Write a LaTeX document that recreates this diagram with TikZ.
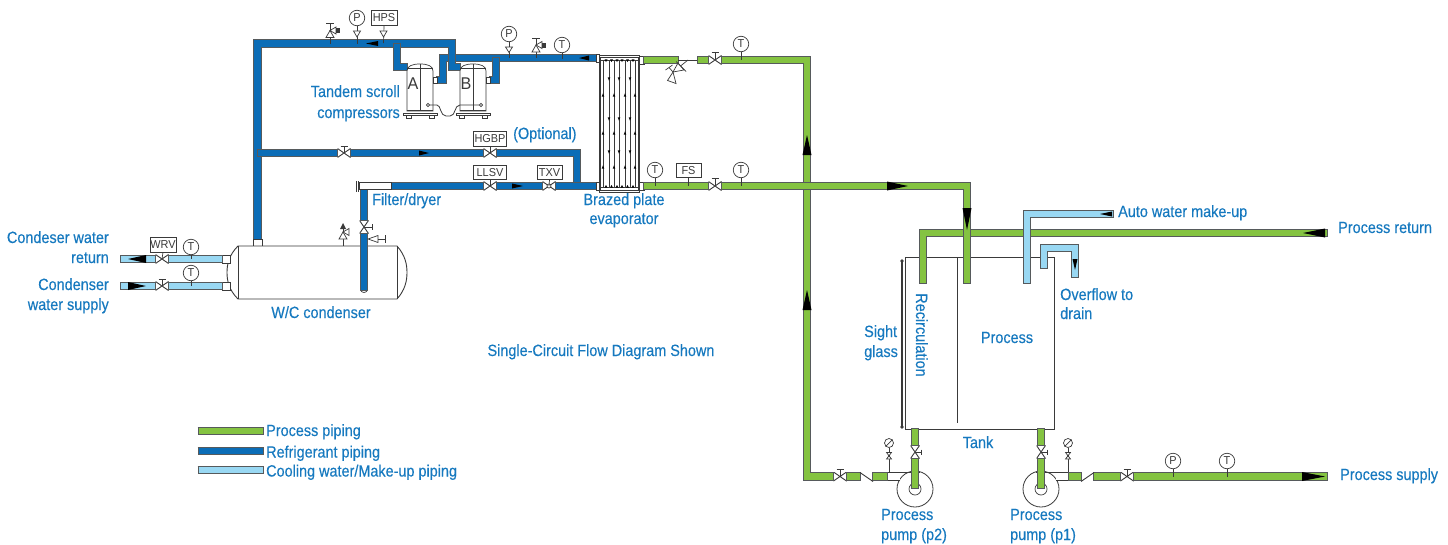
\documentclass[tikz,border=0pt]{standalone}
\usepackage{fontspec}
\setmainfont{Liberation Sans}[FakeStretch=0.885,FakeBold=0.35]
\newfontfamily\instfont{Liberation Sans}[FakeStretch=0.95]
\definecolor{pedge}{HTML}{565A5C}
\definecolor{pgreen}{HTML}{84C341}
\definecolor{pblue}{HTML}{0B6DB7}
\definecolor{plight}{HTML}{99D8F3}
\definecolor{ltext}{HTML}{1679BF}
\definecolor{inst}{HTML}{3A3A3A}
\tikzset{
 pipebase/.style={line join=miter,line cap=butt,preaction={draw=pedge,line width=8.8pt,shorten >=-1pt,shorten <=-1pt},line width=6.2pt},
 gp/.style={pipebase,draw=pgreen},
 bp/.style={pipebase,draw=pblue},
 lp/.style={pipebase,draw=plight},
 vl/.style={draw=inst,line width=0.7pt},
 valveh/.style={rectangle,inner sep=0pt,minimum width=13pt,minimum height=9pt,fill=white,
   path picture={\draw[inst,line width=0.9pt] (path picture bounding box.south west)--(path picture bounding box.north east)--(path picture bounding box.south east)--(path picture bounding box.north west)--cycle;}},
 valvev/.style={valveh,minimum width=9pt,minimum height=13pt,
   path picture={\draw[inst,line width=0.9pt] (path picture bounding box.south west)--(path picture bounding box.north east)--(path picture bounding box.north west)--(path picture bounding box.south east)--cycle;}},
 gauge/.style={circle,draw=inst,line width=0.7pt,fill=white,minimum size=15.5pt,inner sep=0pt,font=\instfont\fontsize{11.5}{11.5}\selectfont,text=inst},
 ibox/.style={rectangle,draw=inst,line width=0.7pt,fill=white,inner sep=0pt,minimum height=14.5pt,font=\instfont\fontsize{11.5}{11.5}\selectfont,text=inst},
 dial/.style={circle,draw=inst,line width=0.7pt,fill=white,minimum size=9pt,inner sep=0pt},
 lab/.style={inner sep=0pt,text=ltext,font=\fontsize{16.3}{16.3}\selectfont,text height=12pt,text depth=2pt},
 tipf/.style={fill=black},
 pics/relief/.style={code={
   \draw[vl] (0,0)--(0,-6);
   \draw[vl,fill=white] (-4,-6)--(4,-6)--(0,-13)--cycle;
   \draw[vl,fill=white] (0,-13)--(6,-16.5)--(6,-9.5)--cycle;
   \fill[inst] (6,-15.5) rectangle (10,-10.5);
   \draw[vl] (0,-13)--(0,-20) (-4,-20)--(4,-20);
 }},
 pics/compressor/.style={code={
   \draw[vl,fill=white] (-13,48)--(-13,8) .. controls (-13,3) and (-8,1) .. (0,1) .. controls (8,1) and (13,3) .. (13,8) -- (13,48)--cycle;
   \draw[vl] (-13,5)--(13,5) (0,1)--(0,48) (-13,47)--(13,47);
   \draw[vl,fill=white] (-17,50) rectangle (17,52.5);
   \fill[inst] (-17,49.6) rectangle (17,50.6);
   \draw[vl,fill=white] (-14,52.5) rectangle (-9,55) (9,52.5) rectangle (14,55);
 }},
}
\begin{document}
\begin{tikzpicture}[x=1pt,y=-1pt]
\useasboundingbox (0,0) rectangle (1448,544);
% ---------- junctions
\coordinate (dT) at (257.5,43.5);
\coordinate (dB) at (257.5,239);
\coordinate (dM) at (257.5,153);
\coordinate (dA) at (397,43.5);
\coordinate (dAk) at (397,67);
\coordinate (dAe) at (407,67);
\coordinate (dBt) at (452,43.5);
\coordinate (dBk) at (452,67);
\coordinate (dBe) at (460,67);
\coordinate (sE) at (596,58);
\coordinate (sA) at (443,58);
\coordinate (sAk) at (443,80);
\coordinate (sAe) at (437,80);
\coordinate (sB) at (496,58);
\coordinate (sBk) at (496,80);
\coordinate (sBe) at (490,80);
\coordinate (hgK) at (577,153);
\coordinate (hgD) at (577,186);
\coordinate (eIn) at (596,186);
\coordinate (fL) at (359,186);
\coordinate (fR) at (391,186);
\coordinate (fD) at (364,190);
\coordinate (rBot) at (364,289.5);
% ---------- valves
\node[valveh] (vHot) at (344,153) {};
\node[valveh] (vHG) at (490,153) {};
\node[valveh] (vLL) at (490,186) {};
\node[valveh] (vTX) at (549,186) {};
\node[valvev] (vRc) at (364,227) {};
\node[valveh] (vWR) at (162,259) {};
\node[valveh] (vWS) at (162,286) {};
\node[valveh] (vEo) at (715,60) {};
\node[valveh] (vEi) at (715,186) {};
\node[valveh] (vP2o) at (840,476.5) {};
\node[valveh] (vP1o) at (1127,476.5) {};
\node[valvev] (vP2) at (915,452) {};
\node[valvev] (vP1) at (1041,452) {};
% ---------- refrigerant piping
\draw[bp] (sE) -- (sA) -- (sAk) -- (sAe);
\draw[bp] (sB) -- (sBk) -- (sBe);
\draw[bp] (dB) -- (dT) -- (dBt) -- (dBk) -- (dBe);
\draw[bp] (dA) -- (dAk) -- (dAe);
\draw[bp] (dM) -- (vHot.west);
\draw[bp] (vHot.east) -- (vHG.west);
\draw[bp] (vHG.east) -- (hgK) -- (hgD);
\draw[bp] (fR) -- (vLL.west);
\draw[bp] (vLL.east) -- (vTX.west);
\draw[bp] (vTX.east) -- (eIn);
\draw[bp] (fD) -- (vRc.north);
% white stubs
\draw[vl,fill=white] (253,239) rectangle (262,246);
\draw[vl,fill=white] (359,182) rectangle (391,189.5);
\draw[inst,line width=0.8pt] (356,181)--(356,192) (358,181)--(358,192);
% ---------- compressors
\pic at (420,63) {compressor};
\pic at (473,63) {compressor};
\draw[vl,fill=white] (433,77.5) rectangle (437,83.5);
\draw[vl,fill=white] (486,77.5) rectangle (490,83.5);
\node[inner sep=0pt,text=inst,font=\instfont\fontsize{17}{17}\selectfont] (cA) at (413,84) {A};
\node[inner sep=0pt,text=inst,font=\instfont\fontsize{17}{17}\selectfont] (cB) at (466,84) {B};
\draw[inst,line width=0.7pt,fill=white] (428,105) circle (1.6) (481,105) circle (1.6);
\draw[inst,line width=0.8pt] (429.6,105) -- (437,105) .. controls (441,105) and (440,116) .. (446,116) -- (450,116) .. controls (456,116) and (454,105) .. (460,105) -- (479.4,105);
% ---------- evaporator
\draw[vl,fill=white] (599,55) rectangle (639,192);
\draw[vl] (600,57) rectangle (638,190);
\draw[inst,line width=1pt] (600,60) -- (638,60) (600,187) -- (638,187);
\foreach \x in {603,609,614,619,625,630,635} {\draw[vl] (\x,60) -- (\x,187);}
\foreach \x in {603,614,625,635} \foreach \y in {95,133,167} {\fill[black] (\x-1.3,\y+1.7)--(\x+1.3,\y+1.7)--(\x,\y-1.7)--cycle;}
\foreach \x in {609,619,630} \foreach \y in {79,119,152} {\fill[black] (\x-1.3,\y-1.7)--(\x+1.3,\y-1.7)--(\x,\y+1.7)--cycle;}
\foreach \x in {606,611.5,617,622,627.5,633} {\fill[black] (\x-1.5,59.3)--(\x+1.5,59.3)--(\x,62)--cycle; \fill[black] (\x-1.5,187.7)--(\x+1.5,187.7)--(\x,185)--cycle;}
\draw[vl,fill=white] (596,54.5) rectangle (599,62);
\draw[vl,fill=white] (596,182.5) rectangle (599,190);
\draw[vl,fill=white] (639,56.5) rectangle (644,64);
\draw[vl,fill=white] (639,182.5) rectangle (644,190);
% ---------- process piping
\coordinate (gOut) at (644,60);
\coordinate (gOut2) at (678,60);
\coordinate (gIn2) at (698,60);
\coordinate (gC1) at (807,60);
\coordinate (gC2) at (807,476.5);
\coordinate (gIn) at (644,186);
\coordinate (gC3) at (967,186);
\coordinate (gD3) at (967,283);
\coordinate (rE) at (1327,233);
\coordinate (rC) at (923,233);
\coordinate (rD) at (923,283);
\draw[gp] (vEo.east) -- (gC1) -- (gC2) -- (vP2o.west);
\draw[gp] (gIn) -- (vEi.west);
\draw[gp] (vEi.east) -- (gC3) -- (gD3);
\draw[gp] (gOut) -- (gOut2);
\draw[vl] (gOut2) -- (gIn2);
\draw[gp] (gIn2) -- (vEo.west);
% relief on the evaporator outlet
\draw[vl] (688,60) -- (673,72);
\draw[vl,fill=white] (673,72)--(678,63)--(684,70)--cycle;
\draw[vl] (676,61.5)--(686,71.5);
\draw[vl,fill=white] (673,72)--(667.5,80.5)--(676,83.5)--cycle;
\draw[vl] (673,72)--(669,67.5) (665.5,70)--(672.5,65);
% ---------- tank
\draw[inst,line width=0.9pt,fill=white] (905,257) rectangle (1054,429);
\draw[inst,line width=0.7pt] (957,257) -- (957,423);
\draw[inst,line width=1.3pt] (902,261) -- (902,427);
\fill[inst] (902,261) circle (1.8) (902,427) circle (1.8);
\draw[gp] (rE) -- (rC) -- (rD);
\draw[gp] (967,212) -- (gD3);
\fill[tipf] (962.5,208)--(971.5,208)--(967,230)--cycle;
\coordinate (mE) at (1113,214);
\coordinate (mC) at (1027,214);
\coordinate (mD) at (1027,283);
\draw[lp] (mE) -- (mC) -- (mD);
\coordinate (oA) at (1044,268);
\coordinate (oB) at (1044,248);
\coordinate (oC) at (1075,248);
\coordinate (oD) at (1075,277);
\draw[lp] (oA) -- (oB) -- (oC) -- (oD);
% ---------- condenser
\draw[inst,line width=0.9pt,fill=white] (238,246) .. controls (229,255) and (227,264) .. (227,272.5) .. controls (227,281) and (229,290) .. (238,299) -- (397,299) .. controls (405,290) and (407,281) .. (407,272.5) .. controls (407,264) and (405,255) .. (397,246) -- cycle;
\draw[inst,line width=0.9pt] (238,246) -- (238,299) (397,246) -- (397,299);
\draw[vl,fill=white] (rBot) ++(-3.5,0) arc (180:360:3.5 and -3);
\draw[bp] (vRc.south) -- (rBot);
\draw[vl,fill=white] (222,255) rectangle (230,263) (222,282) rectangle (230,290);
\coordinate (wRL) at (121,259);
\coordinate (wRR) at (222,259);
\coordinate (wSL) at (121,286);
\coordinate (wSR) at (222,286);
\draw[lp] (wRL) -- (vWR.west);
\draw[lp] (vWR.east) -- (wRR);
\draw[lp] (wSL) -- (vWS.west);
\draw[lp] (vWS.east) -- (wSR);
% ---------- pumps
\coordinate (p2C) at (915,489);
\coordinate (p1C) at (1041,489);
\node[circle,draw=inst,line width=0.8pt,fill=white,minimum size=36pt,inner sep=0pt] (p2V) at (p2C) {};
\node[circle,draw=inst,line width=0.8pt,fill=white,minimum size=36pt,inner sep=0pt] (p1V) at (p1C) {};
\fill[white] (887.4,472.4) rectangle (900,480);
\fill[white] (1056,472.4) rectangle (1068.6,480);
\draw[inst,line width=0.8pt] (900,480) -- (887,480) -- (887,472) -- (920,472);
\draw[inst,line width=0.8pt] (1056,480) -- (1069,480) -- (1069,472) -- (1036,472);
\draw[vl,fill=white] (915,489) circle (6);
\draw[vl,fill=white] (1041,489) circle (6);
\coordinate (t2) at (915,429);
\coordinate (t1) at (1041,429);
\coordinate (p2e) at (915,487.5);
\coordinate (p1e) at (1041,487.5);
\draw[gp] (t2) -- (vP2.north);
\draw[gp] (vP2.south) -- (p2e);
\draw[gp] (t1) -- (vP1.north);
\draw[gp] (vP1.south) -- (p1e);
% outlets
\coordinate (a2) at (860,476.5);
\coordinate (a3) at (873,476.5);
\coordinate (a4) at (887,476.5);
\coordinate (b1) at (1069,476.5);
\coordinate (b2) at (1081,476.5);
\coordinate (b3) at (1094,476.5);
\coordinate (sE2) at (1327,476.5);
\draw[gp] (vP2o.east) -- (a2);
\draw[gp] (a3) -- (a4);
\draw[inst,line width=0.9pt] (860,472.5) -- (873,481.5);
\draw[gp] (b1) -- (b2);
\draw[gp] (b3) -- (vP1o.west);
\draw[gp] (vP1o.east) -- (sE2);
\draw[inst,line width=0.9pt] (1081,481.5) -- (1094,472.5);
\foreach \v in {vP2,vP1} {\draw[vl] (\v.center) -- ++(6,0) ++(0,-2.5) -- ++(0,5);}
% ---------- arrowheads
\fill[tipf] (366,43.5)--(378,41)--(378,46)--cycle;
\fill[tipf] (579,58)--(589,55.5)--(589,60.5)--cycle;
\fill[tipf] (429,153)--(419,150.5)--(419,155.5)--cycle;
\fill[tipf] (523,186)--(512,183.5)--(512,188.5)--cycle;
\fill[tipf] (128,259)--(146,255)--(146,263)--cycle;
\fill[tipf] (146,286)--(128,282)--(128,290)--cycle;
\fill[tipf] (807,135)--(802.5,155)--(811.5,155)--cycle;
\fill[tipf] (807,290)--(802.5,310)--(811.5,310)--cycle;
\fill[tipf] (908,186)--(887,181.5)--(887,190.5)--cycle;
\fill[tipf] (1303,233)--(1325,228.5)--(1325,237.5)--cycle;
\fill[tipf] (1100,214)--(1112,211.5)--(1112,216.5)--cycle;
\fill[tipf] (1075,270)--(1072.5,259)--(1077.5,259)--cycle;
\fill[tipf] (1325,476.5)--(1302,472)--(1302,481)--cycle;
% ---------- valve handles
\foreach \v/\l in {vHot/7,vWS/7,vEo/8,vEi/8,vP2o/7,vP1o/7} {\draw[vl] (\v.center) -- ++(0,-\l) ++(-3.5,0) -- ++(7,0);}
\draw[vl] (vRc.center) -- ++(8,0) ++(0,-3) -- ++(0,6);
\node[circle,draw=inst,line width=0.7pt,fill=white,minimum size=4pt,inner sep=0pt] (vTXc) at (vTX.center) {};
% ---------- reliefs and side valve
\pic at (330,43.5) {relief};
\pic at (536,58) {relief};
\draw[vl] (343,246) -- (343,239);
\draw[vl,fill=white] (339,239)--(347,239)--(343,232)--cycle;
\draw[vl,fill=white] (343,232)--(349,228.5)--(349,235.5)--cycle;
\draw[vl] (343,232) -- (343,226);
\fill[inst] (340,229)--(346,229)--(343,223)--cycle;
\coordinate (sv) at (368,239);
\draw[vl,fill=white] (sv)--(378,235.5)--(378,242.5)--cycle;
\draw[vl] (378,239)--(385,239) (385,235)--(385,243);
% ---------- instruments
\node[gauge] (gP1) at (357,18) {P};
\node[gauge] (gP2) at (509,34) {P};
\node[gauge] (gT1) at (562,45) {T};
\node[gauge] (gT2) at (741,44) {T};
\node[gauge] (gT3) at (655,170) {T};
\node[gauge] (gT4) at (741,170) {T};
\node[gauge] (gT5) at (191,247) {T};
\node[gauge] (gT6) at (191,273) {T};
\node[gauge] (gP3) at (1173,461) {P};
\node[gauge] (gT7) at (1227,461) {T};
\node[ibox,minimum width=26pt] (iHPS) at (384,18) {HPS};
\node[ibox,minimum width=33pt] (iHG) at (490,139) {HGBP};
\node[ibox,minimum width=33pt] (iLL) at (490,172.5) {LLSV};
\node[ibox,minimum width=25pt] (iTX) at (549.5,172.5) {TXV};
\node[ibox,minimum width=25pt] (iFS) at (688.5,170.5) {FS};
\node[ibox,minimum width=26pt,minimum height=15pt] (iWR) at (163,244.5) {WRV};
\foreach \n/\l in {gT1/5.5,gT2/8,gT3/8,gT4/8,gT5/4,gT6/5,gP3/8,gT7/8,iFS/8} {\draw[vl] (\n.south) -- ++(0,\l);}
\foreach \n/\m in {iHG/vHG,iLL/vLL,iTX/vTX,iWR/vWR} {\draw[vl] (\n.south) -- (\m.center);}
\draw[vl] (gP1.south) -- ++(0,17.5);
\draw[vl] (iHPS.south) -- ++(-0.5,17.5);
\draw[vl] (gP2.south) -- ++(0,16);
\draw[vl,fill=white] (353.5,31)--(360.5,31)--(357,37)--cycle;
\draw[vl,fill=white] (380,31)--(387,31)--(383.5,37)--cycle;
\draw[vl,fill=white] (505.5,47)--(512.5,47)--(509,52.5)--cycle;
% pump gauges
\node[dial] (d2) at (889,443) {};
\node[dial] (d1) at (1068,443) {};
\draw[vl] (d2.north east) -- (d2.south west);
\draw[vl] (d1.north east) -- (d1.south west);
\draw[vl] (d2.south) -- (889,472);
\draw[vl] (d1.south) -- (1068,472);
\foreach \x in {889,1068} {\draw[vl,fill=white] (\x-2.5,452.5)--(\x+2.5,452.5)--(\x-2.5,459)--(\x+2.5,459)--cycle; \fill[inst] (\x,456) circle (1.2);}
% ---------- legend
\draw[gp] (198.5,431) -- (262.5,431);
\draw[bp] (198.5,451) -- (262.5,451);
\draw[lp] (198.5,470) -- (262.5,470);
\node[lab,anchor=west] (lg1) at (266,431) {Process piping};
\node[lab,anchor=west] (lg2) at (266,452.5) {Refrigerant piping};
\node[lab,anchor=west] (lg3) at (266,471.5) {Cooling water/Make-up piping};
% ---------- labels
\node[lab,anchor=east] (t1a) at (400,92) {Tandem scroll};
\node[lab,anchor=east] (t1b) at (400,113) {compressors};
\node[lab,anchor=west] (t2) at (513,134) {(Optional)};
\node[lab,anchor=west] (t3) at (372,200) {Filter/dryer};
\node[lab] (t4a) at (624,200) {Brazed plate};
\node[lab] (t4b) at (624,219) {evaporator};
\node[lab,anchor=east] (t5a) at (109,238) {Condeser water};
\node[lab,anchor=east] (t5b) at (109,258) {return};
\node[lab,anchor=east] (t6a) at (109,285) {Condenser};
\node[lab,anchor=east] (t6b) at (109,305) {water supply};
\node[lab] (t7) at (321,313) {W/C condenser};
\node[lab] (t8) at (601,351) {Single-Circuit Flow Diagram Shown};
\node[lab,anchor=west] (t9) at (1118,212) {Auto water make-up};
\node[lab,anchor=west] (t10) at (1338,228) {Process return};
\node[lab,anchor=west] (t11a) at (1060,295) {Overflow to};
\node[lab,anchor=west] (t11b) at (1060,314) {drain};
\node[lab,anchor=west] (t12a) at (864,332) {Sight};
\node[lab,anchor=west] (t12b) at (864,352) {glass};
\node[lab] (t13) at (1007,338) {Process};
\node[lab,rotate=-90] (t14) at (921,335) {Recirculation};
\node[lab] (t15) at (978,443) {Tank};
\node[lab,anchor=west] (t16) at (1340,475) {Process supply};
\node[lab,anchor=west] (t17a) at (881,515) {Process};
\node[lab,anchor=west] (t17b) at (881,535) {pump (p2)};
\node[lab,anchor=west] (t18a) at (1010,515) {Process};
\node[lab,anchor=west] (t18b) at (1010,535) {pump (p1)};
\end{tikzpicture}
\end{document}
